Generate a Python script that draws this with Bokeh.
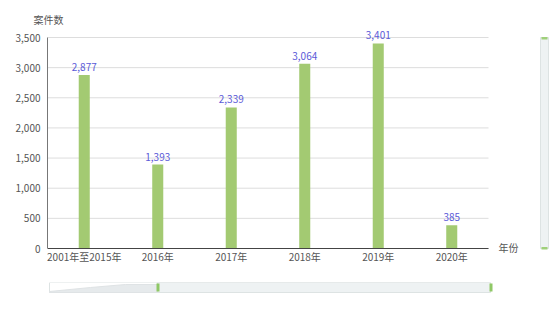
from bokeh.plotting import figure
from bokeh.layouts import column
from bokeh.models import (ColumnDataSource, Range1d, LabelSet, Label,
                          NumeralTickFormatter, FixedTicker)
from bokeh.core.properties import value
from bokeh.embed import file_html
from bokeh.resources import INLINE

categories = ["2001年至2015年", "2016年", "2017年", "2018年", "2019年", "2020年"]
cases = [2877, 1393, 2339, 3064, 3401, 385]
y_ticks = [0, 500, 1000, 1500, 2000, 2500, 3000, 3500]
y_title = "案件数"
x_title = "年份"

FONT = "Noto Sans CJK SC"
FS = "10px"
BAR = "#a3ca72"
LABEL = "#5b5bd8"
TXT = "#555555"

# layout (pixels)
W, H_MAIN, H_ZOOM = 554, 282, 28
PL, PR, PT, PB = 47, 488, 37, 248      # plot-area edges in the picture
FT, FB = 28, 254                        # drawing-frame edges
BOTTOM = H_MAIN - FB

n = len(categories)
pos = [i + 0.5 for i in range(n)]
unit = (PR - PL) / n                       # px per category
x_end = (W - PL) / unit
y_top = y_ticks[-1]
per_px = y_top / (PB - PT)
y_end = y_top + (PT - FT) * per_px
y_start = -(FB - PB) * per_px

def px_x(px):
    return (px - PL) / unit

def px_y(py):
    return (PB - py) * per_px

src = ColumnDataSource(dict(x=pos, val=cases, txt=[f"{v:,}" for v in cases]))

p = figure(width=W, height=H_MAIN, x_range=Range1d(0, x_end), y_range=Range1d(y_start, y_end),
           output_backend="svg", toolbar_location=None,
           min_border_left=PL, min_border_right=0, min_border_top=FT,
           min_border_bottom=BOTTOM)
p.outline_line_color = None
p.xgrid.grid_line_color = None
p.ygrid.grid_line_color = None

p.title.text = y_title
p.title.align = "left"
p.title.offset = -14
p.title.text_font = FONT
p.title.text_font_size = FS
p.title.text_font_style = "normal"
p.title.text_color = TXT
p.title.standoff = 3

# gridlines limited to plot area
p.segment(x0=[0] * len(y_ticks), x1=[n] * len(y_ticks), y0=y_ticks, y1=y_ticks,
          line_color="#dddddd", line_width=1)

p.vbar(x="x", top="val", width=0.15, source=src, color=BAR, line_color=None)

# x-axis line at value 0
p.segment(x0=[0], x1=[n], y0=[y_ticks[0]], y1=[y_ticks[0]], line_color="#444444", line_width=1)

p.add_layout(LabelSet(x="x", y="val", text="txt", source=src, text_align="center",
                      text_baseline="bottom", y_offset=4, text_font=value(FONT),
                      text_font_size=FS, text_color=LABEL))

p.xaxis.ticker = FixedTicker(ticks=pos)
p.xaxis.major_label_overrides = {pp: c for pp, c in zip(pos, categories)}
p.xaxis.axis_line_color = None
p.yaxis.ticker = FixedTicker(ticks=y_ticks)
p.yaxis.formatter = NumeralTickFormatter(format="0,0")
p.yaxis.bounds = (0, y_top)
for ax in (p.xaxis, p.yaxis):
    ax.major_label_text_font = FONT
    ax.major_label_text_font_size = FS
    ax.major_label_text_color = TXT
    ax.major_tick_line_color = None
    ax.minor_tick_line_color = None
    ax.major_tick_out = 0
    ax.major_tick_in = 0
    ax.minor_tick_out = 0
    ax.minor_tick_in = 0
p.yaxis.axis_line_color = "#777777"
p.yaxis.major_label_standoff = 7
p.xaxis.major_label_standoff = -6

p.add_layout(Label(x=n, y=0, text=x_title, x_offset=10, y_offset=1,
                   text_baseline="middle", text_font=FONT, text_font_size=FS,
                   text_color=TXT))

# vertical data-zoom slider (decoration)
p.quad(left=px_x(540), right=px_x(548), top=px_y(37), bottom=px_y(248),
       fill_color="#eef2f3", line_color="#dde3e3", line_width=1)
p.quad(left=[px_x(541)] * 2, right=[px_x(547)] * 2, top=[px_y(36.5), px_y(246.5)],
       bottom=[px_y(39), px_y(249)], fill_color="#9fd07a", line_color=None)

# horizontal data-zoom slider (decoration), separate strip below (frame aligned with main plot)
z = figure(width=W, height=H_ZOOM, x_range=Range1d(PL, W), y_range=Range1d(H_ZOOM, 0),
           output_backend="svg", toolbar_location=None, min_border=0,
           x_axis_location=None, y_axis_location=None)
z.outline_line_color = None
z.xgrid.grid_line_color = None
z.ygrid.grid_line_color = None
oy = H_MAIN
z.quad(left=49, right=490, top=282 - oy, bottom=292 - oy, fill_color="white",
       line_color="#dde3e3", line_width=1)
z.patch(x=[49, 90, 125, 157, 157, 49], y=[291 - oy, 287 - oy, 284 - oy, 284 - oy, 292 - oy, 292 - oy],
        fill_color="#e6eaec", line_color="#dfe3e5", line_width=1)
z.quad(left=157, right=490, top=282 - oy, bottom=292 - oy, fill_color="#eef2f3",
       line_color="#dde3e3", line_width=1)
z.quad(left=[156, 489], right=[159, 492], top=[283 - oy] * 2, bottom=[291 - oy] * 2,
       fill_color="#8fc866", line_color=None)

layout = column(p, z, spacing=0)
open("out.html", "w").write(file_html(layout, INLINE))
